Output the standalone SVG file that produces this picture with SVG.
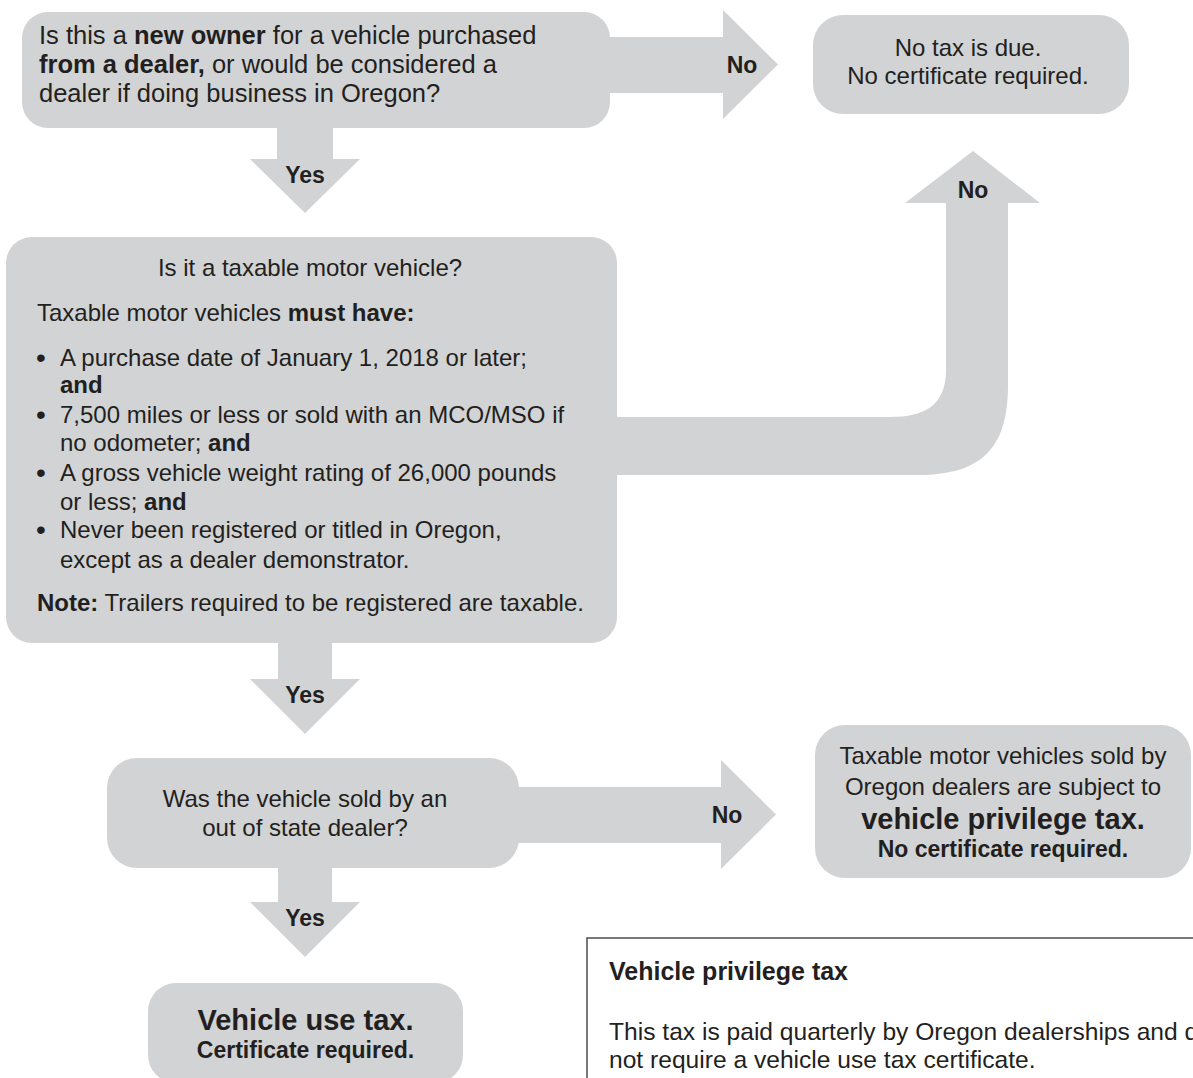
<svg xmlns="http://www.w3.org/2000/svg" width="1193" height="1078" viewBox="0 0 1193 1078">
<style>
.box{fill:#d1d3d4}
.arrow{fill:#d1d3d4}
text{font-family:"Liberation Sans",Arial,Helvetica,sans-serif;fill:#231f20;font-size:24px}
.b{font-weight:bold}
.lbl{font-weight:bold;font-size:23px;text-anchor:middle}
.c{text-anchor:middle}
.q1{font-size:25.5px}
.bul{font-size:28px}
</style>
<rect x="0" y="0" width="1193" height="1078" fill="#ffffff"/>
<g id="connectors">
<path class="arrow" d="M600 37 H723 V10 L778 64.5 L723 119 V93 H600 Z"/>
<path class="arrow" d="M277 120 V159 H250 L305 213 L360 159 H333 V120 Z"/>
<path class="arrow" d="M600 417 H890 C925 417 946 405 946 370 V203 H905 L973 151 L1040 203 H1008 V385 C1008 445 985 475 918 475 H600 Z"/>
<path class="arrow" d="M278 635 V679 H250 L305 734 L360 679 H332 V635 Z"/>
<path class="arrow" d="M505 787 H721 V760 L776 814.5 L721 869 V843 H505 Z"/>
<path class="arrow" d="M278 860 V902 H250 L305 957 L360 902 H332 V860 Z"/>
<text class="lbl" x="742" y="72.5">No</text>
<text class="lbl" x="305" y="183">Yes</text>
<text class="lbl" x="973" y="198">No</text>
<text class="lbl" x="305" y="703">Yes</text>
<text class="lbl" x="727" y="823">No</text>
<text class="lbl" x="305" y="926">Yes</text>
</g>
<g id="node-new-owner">
<rect class="box" x="22" y="12" width="588" height="116" rx="26"/>
<text class="q1" x="39" y="44">Is this a <tspan class="b">new owner</tspan> for a vehicle purchased</text>
<text class="q1" x="39" y="73"><tspan class="b">from a dealer,</tspan> or would be considered a</text>
<text class="q1" x="39" y="102">dealer if doing business in Oregon?</text>
</g>
<g id="node-no-tax">
<rect class="box" x="813" y="15" width="316" height="99" rx="30"/>
<text class="c" x="968" y="56">No tax is due.</text>
<text class="c" x="968" y="84">No certificate required.</text>
</g>
<g id="node-taxable">
<rect class="box" x="6" y="237" width="611" height="406" rx="26"/>
<text class="c" x="310" y="276">Is it a taxable motor vehicle?</text>
<text x="37" y="321">Taxable motor vehicles <tspan class="b">must have:</tspan></text>
<text class="bul" x="36" y="367">•</text>
<text x="60" y="366">A purchase date of January 1, 2018 or later;</text>
<text x="60" y="393" class="b">and</text>
<text class="bul" x="36" y="424">•</text>
<text x="60" y="423">7,500 miles or less or sold with an MCO/MSO if</text>
<text x="60" y="451">no odometer; <tspan class="b">and</tspan></text>
<text class="bul" x="36" y="482">•</text>
<text x="60" y="481">A gross vehicle weight rating of 26,000 pounds</text>
<text x="60" y="510">or less; <tspan class="b">and</tspan></text>
<text class="bul" x="36" y="539">•</text>
<text x="60" y="538">Never been registered or titled in Oregon,</text>
<text x="60" y="568">except as a dealer demonstrator.</text>
<text x="37" y="611"><tspan class="b">Note:</tspan> Trailers required to be registered are taxable.</text>
</g>
<g id="node-out-of-state">
<rect class="box" x="107" y="758" width="412" height="110" rx="30"/>
<text class="c" x="305" y="807">Was the vehicle sold by an</text>
<text class="c" x="305" y="836">out of state dealer?</text>
</g>
<g id="node-privilege">
<rect class="box" x="815" y="725" width="376" height="153" rx="30"/>
<text class="c" x="1003" y="764">Taxable motor vehicles sold by</text>
<text class="c" x="1003" y="795">Oregon dealers are subject to</text>
<text class="c b" x="1003" y="829" style="font-size:29px">vehicle privilege tax.</text>
<text class="c b" x="1003" y="857" style="font-size:23px">No certificate required.</text>
</g>
<g id="node-use-tax">
<rect class="box" x="148" y="983" width="315" height="100" rx="28"/>
<text class="c b" x="305.5" y="1030" style="font-size:29px">Vehicle use tax.</text>
<text class="c b" x="305.5" y="1058" style="font-size:23px">Certificate required.</text>
</g>
<g id="note">
<rect x="587" y="938" width="700" height="300" fill="none" stroke="#4d4d4d" stroke-width="1.5"/>
<text class="b" x="609" y="980" style="font-size:25px">Vehicle privilege tax</text>
<text x="609" y="1040" style="font-size:24.6px">This tax is paid quarterly by Oregon dealerships and d</text>
<text x="609" y="1068" style="font-size:24.6px">not require a vehicle use tax certificate.</text>
</g>
</svg>
